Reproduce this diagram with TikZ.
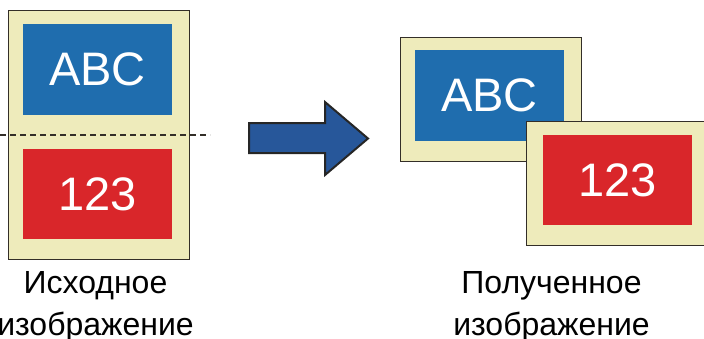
\documentclass[tikz,border=0pt]{standalone}
\usepackage{fontspec}
\setmainfont{Liberation Sans}
\usepackage{tikz}
\usetikzlibrary{positioning}

\definecolor{cream}{RGB}{238,235,187}
\definecolor{boxblue}{RGB}{31,109,174}
\definecolor{boxred}{RGB}{217,38,42}
\definecolor{arrowblue}{RGB}{39,87,154}
\definecolor{edgegray}{RGB}{51,46,40}

\tikzset{
    sheet/.style={draw=edgegray, fill=cream, line width=1pt, inner sep=0pt, minimum width=181pt},
    plate/.style={inner sep=0pt, minimum width=149pt, text=white, font=\fontsize{47}{50}\selectfont},
    caption/.style={anchor=base, font=\fontsize{32}{40}\selectfont}
}

\begin{document}
\begin{tikzpicture}[x=1pt, y=-1pt]
    \useasboundingbox (0,0) rectangle (704,338);

    % source image
    \node [sheet, minimum height=249pt] (src) at (98.5,134.5) {};
    \node [plate, fill=boxblue, minimum height=91pt] (srcabc) at (97.5,69.5) {ABC};
    \node [plate, fill=boxred, minimum height=90pt] (src123) at (97.5,194) {123};

    \coordinate (cutl) at (0,135);
    \coordinate (cutr) at (210,135);
    \draw [edgegray, line width=1.3pt, dash pattern=on 6pt off 4pt] (cutl) -- (cutr);

    \node [caption] (srcl1) at (95.5,293) {Исходное};
    \node [caption] (srcl2) at (95.5,335) {изображение};

    % arrow
    \draw [fill=arrowblue, draw=black!85, line width=2pt, line join=miter]
        (249,123) -- (325,123) -- (325,102) -- (368,138.5) -- (325,175) -- (325,153) -- (249,153) -- cycle;

    % result image
    \node [sheet, minimum height=124pt] (back) at (490.5,99) {};
    \node [plate, fill=boxblue, minimum height=91pt] (resabc) at (489.5,95.5) {ABC};
    \node [sheet, minimum height=124pt] (front) at (616.5,183) {};
    \node [plate, fill=boxred, minimum height=90pt] (res123) at (617.5,180) {123};

    \node [caption] (resl1) at (551.5,293) {Полученное};
    \node [caption] (resl2) at (551.5,335) {изображение};
\end{tikzpicture}
\end{document}
